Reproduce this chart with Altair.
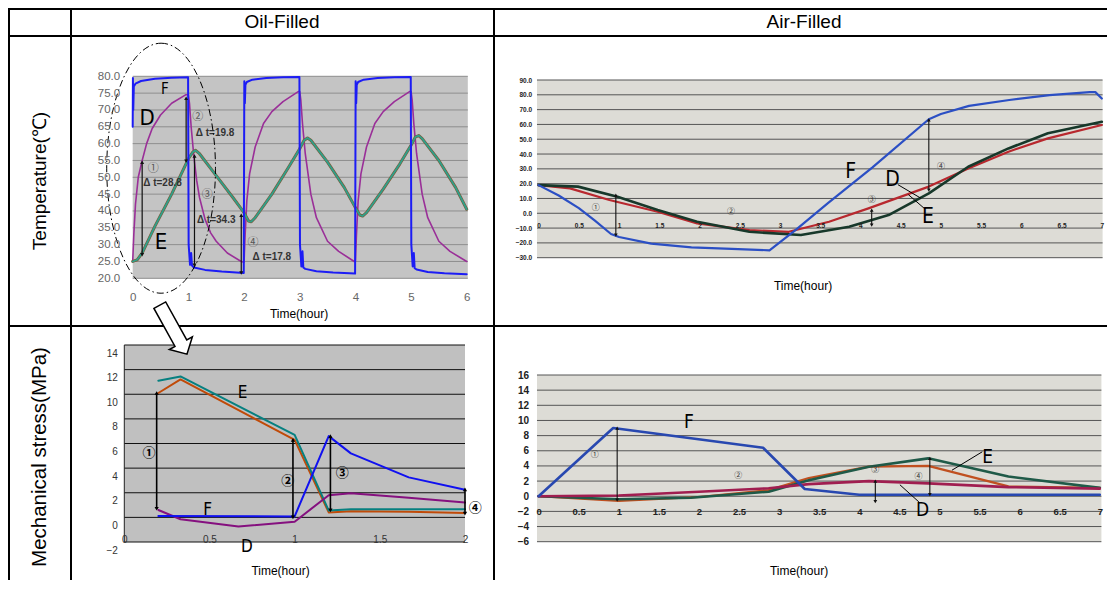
import altair as alt
import pandas as pd

W, H = 1099, 572
FONT = "Liberation Sans, Arial, sans-serif"
NARROW = "Liberation Sans Narrow, DejaVu Sans Condensed, sans-serif"
CJK = "Noto Sans CJK JP, DejaVu Sans, sans-serif"

# ---------------- text ----------------
header_labels = ["Oil-Filled", "Air-Filled"]
row_labels = ["Temperature(℃)", "Mechanical stress(MPa)"]
time_title = "Time(hour)"

# ---------------- Panel A : oil-filled temperature ----------------
a_f_t = [0.0, 0.004, 0.01, 0.02, 0.05, 0.15, 0.4, 0.7, 0.995, 1.005, 1.03, 1.05, 1.065, 1.1, 1.3, 1.6, 1.995,
         2.005, 2.015, 2.025, 2.05, 2.15, 2.4, 2.7, 2.995, 3.005, 3.03, 3.05, 3.065, 3.1, 3.3, 3.6, 3.995,
         4.005, 4.015, 4.025, 4.05, 4.15, 4.4, 4.7, 4.995, 5.005, 5.03, 5.05, 5.065, 5.1, 5.3, 5.6, 6.0]
a_f_v = [65, 79.5, 70, 77, 77.8, 78.6, 79.3, 79.6, 79.7, 30, 24, 27.5, 23.8, 23.2, 22.5, 22.0, 21.6,
         78.5, 72, 77.5, 78.3, 79.0, 79.5, 79.7, 79.8, 30, 23.5, 28, 23.2, 22.8, 22.1, 21.7, 21.4,
         78.5, 72, 77.5, 78.3, 79.0, 79.5, 79.7, 79.8, 30, 23.5, 27.5, 23.0, 22.6, 21.9, 21.5, 21.2]
a_d_t = [0.0, 0.02, 0.05, 0.1, 0.17, 0.25, 0.35, 0.5, 0.7, 0.95, 1.0,
         1.02, 1.05, 1.1, 1.15, 1.2, 1.3, 1.4, 1.5, 1.7, 1.95, 2.0,
         2.02, 2.05, 2.1, 2.2, 2.35, 2.5, 2.7, 2.98, 3.0,
         3.02, 3.05, 3.1, 3.2, 3.3, 3.5, 3.7, 3.98, 4.0,
         4.02, 4.05, 4.1, 4.2, 4.35, 4.5, 4.7, 4.98, 5.0,
         5.02, 5.05, 5.1, 5.2, 5.3, 5.5, 5.7, 6.0]
a_d_v = [25, 33, 42, 50, 55, 60, 64.5, 68.5, 72, 74.5, 74.5,
         72, 65, 56, 49, 44, 37.5, 33.5, 31, 27.5, 25, 24.8,
         33, 43, 51, 59, 66, 69.5, 72.5, 75.5, 75.5,
         73, 66, 57, 45, 38, 31, 28, 25, 25,
         33, 43, 51, 59, 66, 69.5, 72.5, 75.5, 75.5,
         73, 66, 57, 45, 38, 31, 28, 25]
a_e_t = [0.0, 0.08, 0.17, 0.4, 0.7, 1.0, 1.08, 1.13, 1.2, 1.5, 1.8, 2.0, 2.08, 2.13, 2.2, 2.5, 2.8, 3.0, 3.08,
         3.14, 3.2, 3.5, 3.8, 4.0, 4.08, 4.13, 4.2, 4.5, 4.8, 5.0, 5.08, 5.14, 5.2, 5.5, 5.8, 6.0]
a_e_v = [25, 25.5, 27.5, 35.5, 45, 55.5, 57.5, 58, 57, 50.5, 44, 39.5, 37, 36.8, 38, 45, 53, 58.5, 61,
         61.7, 61, 54.5, 47, 41, 38.8, 38.5, 39.5, 46.5, 54, 59.5, 62, 62.4, 61.5, 55, 47, 40.5]
a_arrow_x = [0.17, 0.96, 1.11, 1.95]
a_arrow_top = [54.5, 73.5, 56.3, 38.7]
a_arrow_bot = [27.0, 54.8, 23.9, 21.6]
a_circ_x = [0.37, 1.17, 1.34, 2.16]
a_circ_y = [52.6, 67.9, 44.6, 30.6]
a_circ_s = ["①", "②", "③", "④"]
a_dt_x = [0.535, 1.48, 1.50, 2.5]
a_dt_y = [48.3, 63.1, 37.3, 26.3]
a_dt_s = ["Δ t=28.8", "Δ t=19.8", "Δ t=34.3", "Δ t=17.8"]
a_lab_x = [0.58, 0.26, 0.51]
a_lab_y = [76.2, 67.6, 30.8]
a_lab_s = ["F", "D", "E"]
a_lab_size = [15, 22, 22]
a_ellipse_x = [0.51]
a_ellipse_y = [52.7]

# ---------------- Panel B : air-filled temperature ----------------
b_f_t = [0, 0.25, 0.5, 0.7, 0.9, 1.0, 1.4, 1.9, 2.4, 2.87, 3.2, 3.6, 4.15, 4.85, 5.0, 5.35, 5.85, 6.35, 6.85, 6.92, 7.0]
b_f_v = [19, 12, 3.5, -5, -14, -16, -20.5, -23, -24, -25, -11, 7, 31, 63.5, 67, 72.5, 76.5, 79.8, 81.8, 81.8, 77.5]
b_d_t = [0, 0.39, 0.88, 1.48, 1.97, 2.62, 3.11, 3.61, 4.1, 4.85, 5.34, 5.84, 6.33, 7.0]
b_d_v = [19, 16.8, 9, 1, -6.8, -11.4, -12.5, -5.7, 3.3, 18, 30.3, 41.6, 50.6, 59.6]
b_e_t = [0, 0.49, 0.98, 1.48, 1.97, 2.62, 3.26, 3.86, 4.35, 4.85, 5.34, 5.84, 6.33, 7.0]
b_e_v = [19, 18, 11.2, 2.2, -5.7, -12.5, -14.7, -9.1, -1.2, 13.4, 31.4, 43.8, 54, 61.8]
b_arrow_x = [0.96, 4.14, 4.85]
b_arrow_top = [12.3, 2.2, 63.0]
b_arrow_bot = [-14.7, -8.0, 15.7]
b_circ_x = [0.71, 2.39, 4.14, 5.0]
b_circ_y = [3.3, 1.0, 9.0, 31.4]
b_circ_s = ["①", "②", "③", "④"]
b_lab_x = [3.88, 4.4, 4.84]
b_lab_y = [28.2, 22.6, -2.2]
b_lab_s = ["F", "D", "E"]
b_lead_id = [0, 0, 1, 1]
b_lead_x = [4.47, 4.75, 4.6, 4.8]
b_lead_y = [19.2, 10.2, 12.4, 3.0]

# ---------------- Panel C : oil-filled stress ----------------
c_e_t = [0.2, 0.33, 1.0, 1.2, 1.33, 1.67, 2.0]
c_e_v = [11.1, 11.45, 6.7, 0.55, 0.65, 0.65, 0.65]
c_b_t = [0.2, 0.33, 1.0, 1.2, 1.33, 1.67, 2.0]
c_b_v = [10.1, 11.2, 6.3, 0.4, 0.5, 0.45, 0.35]
c_f_t = [0.2, 1.0, 1.2, 1.33, 1.67, 2.0]
c_f_v = [0.12, 0.08, 6.6, 5.2, 3.25, 2.25]
c_d_t = [0.2, 0.33, 0.67, 1.0, 1.2, 1.33, 1.67, 2.0]
c_d_v = [0.6, -0.15, -0.75, -0.35, 1.8, 1.95, 1.6, 1.2]
c_arrow_x = [0.19, 0.99, 1.21, 2.0]
c_arrow_top = [10.1, 6.3, 6.6, 2.27]
c_arrow_bot = [0.7, 0.0, 0.57, 0.3]
c_circ_x = [0.145, 0.96, 1.28, 2.06]
c_circ_y = [5.24, 2.97, 3.62, 0.78]
c_circ_s = ["①", "②", "③", "④"]
c_lab_x = [0.695, 0.49, 0.72]
c_lab_y = [10.13, 0.62, -2.38]
c_lab_s = ["E", "F", "D"]

# ---------------- Panel D : air-filled stress ----------------
d_f_t = [0, 0.93, 2.8, 3.32, 4.0, 7.0]
d_f_v = [0, 9.0, 6.4, 0.95, 0.2, 0.2]
d_e_t = [0, 1.0, 1.9, 2.87, 3.37, 4.12, 4.86, 5.86, 7.0]
d_e_v = [0, -0.4, -0.2, 0.6, 2.1, 3.9, 5.0, 2.6, 1.1]
d_b_t = [0, 1.0, 2.0, 2.87, 3.37, 4.12, 4.86, 5.86, 7.0]
d_b_v = [0, -0.6, -0.1, 0.8, 2.4, 3.9, 4.0, 1.3, 1.1]
d_d_t = [0, 1.0, 2.0, 2.87, 3.37, 4.12, 4.86, 5.86, 7.0]
d_d_v = [0, 0.1, 0.6, 1.05, 1.6, 2.0, 1.7, 1.2, 1.0]
d_arrow_x = [0.98, 4.2, 4.88]
d_arrow_top = [9.0, 2.0, 5.0]
d_arrow_bot = [-0.5, -0.7, 0.2]
d_circ_x = [0.7, 2.49, 4.2, 4.74]
d_circ_y = [5.4, 2.7, 3.4, 2.6]
d_circ_s = ["①", "②", "③", "④"]
d_lab_x = [1.876, 5.6, 4.79]
d_lab_y = [9.84, 5.16, -1.82]
d_lab_s = ["F", "E", "D"]
d_lead_id = [0, 0, 1, 1]
d_lead_x = [5.16, 5.53, 4.74, 4.51]
d_lead_y = [3.46, 5.84, -0.72, 1.48]


# ---------------- helpers ----------------
def S(domain, rng):
    return alt.Scale(domain=domain, range=rng, nice=False, zero=False)


def line_layer(xs, ys, sx, sy, color, width, dash=None, opacity=1.0, detail=None):
    df = pd.DataFrame({"x": xs, "y": ys, "i": list(range(len(xs)))})
    props = dict(color=color, strokeWidth=width, opacity=opacity, strokeJoin="round", strokeCap="round")
    if dash is not None:
        props["strokeDash"] = dash
    enc = dict(x=alt.X("x:Q", scale=sx, axis=None), y=alt.Y("y:Q", scale=sy, axis=None), order="i:Q")
    if detail is not None:
        df["g"] = detail
        enc["detail"] = "g:N"
    return alt.Chart(df).mark_line(**props).encode(**enc)


def bg_layer(x0, x1, y0, y1, sx, sy, fill, xaxis, yaxis):
    df = pd.DataFrame({"x0": [x0], "x1": [x1], "y0": [y0], "y1": [y1]})
    return alt.Chart(df).mark_rect(fill=fill).encode(
        x=alt.X("x0:Q", scale=sx, axis=xaxis), x2="x1:Q",
        y=alt.Y("y0:Q", scale=sy, axis=yaxis), y2="y1:Q")


def grid_layer(vals, x0, x1, sx, sy, color, width=1.0):
    df = pd.DataFrame({"y": vals, "x0": [x0] * len(vals), "x1": [x1] * len(vals)})
    return alt.Chart(df).mark_rule(color=color, strokeWidth=width).encode(
        x=alt.X("x0:Q", scale=sx, axis=None), x2="x1:Q",
        y=alt.Y("y:Q", scale=sy, axis=None))


def vgrid_layer(vals, y0, y1, sx, sy, color, width=1.0):
    df = pd.DataFrame({"x": vals, "y0": [y0] * len(vals), "y1": [y1] * len(vals)})
    return alt.Chart(df).mark_rule(color=color, strokeWidth=width).encode(
        x=alt.X("x:Q", scale=sx, axis=None),
        y=alt.Y("y0:Q", scale=sy, axis=None), y2="y1:Q")


def arrow_layers(xs, tops, bots, sx, sy, color="black", width=1.2, head=18):
    df = pd.DataFrame({"x": xs, "top": tops, "bot": bots})
    base = alt.Chart(df)
    r = base.mark_rule(color=color, strokeWidth=width).encode(
        x=alt.X("x:Q", scale=sx, axis=None),
        y=alt.Y("top:Q", scale=sy, axis=None), y2="bot:Q")
    up = base.mark_point(shape="triangle-up", filled=True, color=color, size=head, opacity=1).encode(
        x=alt.X("x:Q", scale=sx, axis=None), y=alt.Y("top:Q", scale=sy, axis=None))
    dn = base.mark_point(shape="triangle-down", filled=True, color=color, size=head, opacity=1).encode(
        x=alt.X("x:Q", scale=sx, axis=None), y=alt.Y("bot:Q", scale=sy, axis=None))
    return [r, up, dn]


def text_layer(xs, ys, labels, sx, sy, size, color="black", font=FONT, weight="normal",
               align="center", baseline="middle", sizes=None):
    df = pd.DataFrame({"x": xs, "y": ys, "s": labels})
    enc = dict(x=alt.X("x:Q", scale=sx, axis=None), y=alt.Y("y:Q", scale=sy, axis=None), text="s:N")
    if sizes is not None:
        df["fs"] = sizes
        enc["size"] = alt.Size("fs:Q", scale=None, legend=None)
    return alt.Chart(df).mark_text(fontSize=size, color=color, font=font, fontWeight=weight,
                                   align=align, baseline=baseline).encode(**enc)


def xaxis(offset_y, values, fmt, size, color, weight="normal", pad=0):
    return alt.Axis(orient="bottom", offset=offset_y - H, values=values, format=fmt, domain=False,
                    ticks=False, tickSize=0, grid=False, labelPadding=pad, labelBaseline="middle",
                    labelFont=FONT, labelFontSize=size, labelColor=color, labelFontWeight=weight,
                    labelFlush=False, labelOverlap=False, labelBound=False, title=None, zindex=2)


def yaxis(x_pos, values, fmt, size, color, weight="normal", pad=4, label_offset=0):
    return alt.Axis(orient="left", offset=-x_pos, values=values, format=fmt, domain=False,
                    ticks=False, tickSize=0, grid=False, labelPadding=pad, labelOffset=label_offset,
                    labelFont=FONT, labelFontSize=size, labelColor=color, labelFontWeight=weight,
                    labelFlush=False, labelOverlap=False, labelBound=False, title=None, zindex=2)


one = pd.DataFrame({"k": [0]})


def hline(y, x0=0, x1=W):
    return alt.Chart(one).mark_rule(color="black", strokeWidth=2).encode(
        x=alt.value(x0), x2=alt.value(x1), y=alt.value(y))


def vline(x, y0=0, y1=H):
    return alt.Chart(one).mark_rule(color="black", strokeWidth=2).encode(
        x=alt.value(x), y=alt.value(y0), y2=alt.value(y1))


def free_text(x, y, s, size, angle=0):
    return alt.Chart(one).mark_text(text=s, fontSize=size, font=FONT, angle=angle, align="center",
                                    baseline="middle", color="black").encode(x=alt.value(x), y=alt.value(y))


layers = []

# ---------- Panel A ----------
sxA = S([0, 6], [124.7, 458.7])
syA = S([20, 80], [270.3, 68.3])
layers.append(bg_layer(0, 6.02, 20, 80, sxA, syA, "#c4c4c4",
                       xaxis(289, [0, 1, 2, 3, 4, 5, 6], "d", 11.5, "#666666"),
                       yaxis(124.7, list(range(20, 85, 5)), ".1f", 11.5, "#666666", pad=13)))
layers.append(grid_layer(list(range(20, 85, 5)), 0, 6.02, sxA, syA, "#8e8e8e", 1))
layers.append(line_layer(a_d_t, a_d_v, sxA, syA, "#9a2f98", 1.6))
layers.append(line_layer(a_e_t, a_e_v, sxA, syA, "#7a5a38", 3.0))
layers.append(line_layer(a_e_t, a_e_v, sxA, syA, "#2fa08a", 1.8))
layers.append(line_layer(a_f_t, a_f_v, sxA, syA, "#1c1cf5", 2.0))
layers += arrow_layers(a_arrow_x, a_arrow_top, a_arrow_bot, sxA, syA, "#111111", 1.2, 16)
layers.append(text_layer(a_circ_x, a_circ_y, a_circ_s, sxA, syA, 11, "#555555", CJK))
layers.append(text_layer(a_dt_x, a_dt_y, a_dt_s, sxA, syA, 10, "#333333", FONT, "bold"))
layers.append(text_layer(a_lab_x, a_lab_y, a_lab_s, sxA, syA, 20, "black", NARROW, sizes=a_lab_size))
ellipse_path = ("M 0 -1 C 0.24 -1 0.435 -0.5523 0.435 0 C 0.435 0.5523 0.24 1 0 1 "
                "C -0.24 1 -0.435 0.5523 -0.435 0 C -0.435 -0.5523 -0.24 -1 0 -1 Z")
layers.append(alt.Chart(pd.DataFrame({"x": a_ellipse_x, "y": a_ellipse_y})).mark_point(
    shape=ellipse_path, size=62500, filled=False, color="black", strokeWidth=1,
    strokeDash=[7, 3, 1.5, 3], opacity=1).encode(
    x=alt.X("x:Q", scale=sxA, axis=None), y=alt.Y("y:Q", scale=syA, axis=None)))

# ---------- Panel B ----------
sxB = S([0, 7], [530.6, 1093.8])
syB = S([-30, 90], [249.7, 72])
layers.append(bg_layer(-0.02, 7.01, -30, 90, sxB, syB, "#dddcd6",
                       xaxis(217, [x / 2 for x in range(15)], "~g", 6.5, "#222222", "bold"),
                       yaxis(530.6, list(range(-30, 100, 10)), ".1f", 6.5, "#222222", "bold", pad=7)))
layers.append(grid_layer(list(range(-30, 100, 10)), -0.02, 7.01, sxB, syB, "#555555", 1))
layers.append(line_layer(b_d_t, b_d_v, sxB, syB, "#b8282e", 2.2))
layers.append(line_layer(b_e_t, b_e_v, sxB, syB, "#17382a", 2.6))
layers.append(line_layer(b_f_t, b_f_v, sxB, syB, "#2b4fc4", 2.2))
layers += arrow_layers(b_arrow_x, b_arrow_top, b_arrow_bot, sxB, syB, "#111111", 1.1, 14)
layers.append(text_layer(b_circ_x, b_circ_y, b_circ_s, sxB, syB, 8, "#333333", CJK))
layers.append(text_layer(b_lab_x, b_lab_y, b_lab_s, sxB, syB, 21, "black", NARROW))
layers.append(line_layer(b_lead_x, b_lead_y, sxB, syB, "black", 1.0, detail=b_lead_id))

# ---------- Panel C ----------
sxC = S([0, 2], [116.3, 457])
syC = S([-2, 14], [534, 337])
layers.append(bg_layer(0, 2, -2, 14, sxC, syC, "#c0c0c0",
                       xaxis(531.3, [0, 0.5, 1, 1.5, 2], "~g", 10, "#333333"),
                       yaxis(116.3, list(range(-2, 16, 2)), "d", 10, "#333333", pad=7, label_offset=8)))
layers.append(grid_layer(list(range(-2, 16, 2)), 0, 2, sxC, syC, "#111111", 1))
layers.append(vgrid_layer([0], -2, 14, sxC, syC, "#222222", 1))
layers.append(line_layer(c_b_t, c_b_v, sxC, syC, "#c04a08", 2.0))
layers.append(line_layer(c_e_t, c_e_v, sxC, syC, "#078080", 2.0))
layers.append(line_layer(c_d_t, c_d_v, sxC, syC, "#85107f", 2.0))
layers.append(line_layer(c_f_t, c_f_v, sxC, syC, "#1010f0", 2.0))
layers += arrow_layers(c_arrow_x, c_arrow_top, c_arrow_bot, sxC, syC, "black", 1.6, 18)
layers.append(text_layer(c_circ_x, c_circ_y, c_circ_s, sxC, syC, 13, "black", CJK, "bold"))
layers.append(text_layer(c_lab_x, c_lab_y, c_lab_s, sxC, syC, 17, "black", NARROW))

# ---------- Panel D ----------
sxD = S([0, 7], [530.6, 1091.8])
syD = S([-6, 16], [533.7, 367])
layers.append(bg_layer(-0.02, 7.02, -6, 16, sxD, syD, "#dddcd6",
                       xaxis(503.7, [x / 2 for x in range(15)], "~g", 9.5, "#222222", "bold"),
                       yaxis(530.6, list(range(-6, 18, 2)), "d", 10, "#222222", "bold", pad=10)))
layers.append(grid_layer(list(range(-6, 18, 2)), -0.02, 7.02, sxD, syD, "#555555", 1))
layers.append(line_layer(d_b_t, d_b_v, sxD, syD, "#c05020", 2.2))
layers.append(line_layer(d_e_t, d_e_v, sxD, syD, "#1f5a48", 2.6))
layers.append(line_layer(d_d_t, d_d_v, sxD, syD, "#a01e50", 2.6))
layers.append(line_layer(d_f_t, d_f_v, sxD, syD, "#2848b0", 2.6))
layers += arrow_layers(d_arrow_x, d_arrow_top, d_arrow_bot, sxD, syD, "#111111", 1.1, 14)
layers.append(text_layer(d_circ_x, d_circ_y, d_circ_s, sxD, syD, 8, "#333333", CJK))
layers.append(text_layer(d_lab_x, d_lab_y, d_lab_s, sxD, syD, 19, "black", NARROW))
layers.append(line_layer(d_lead_x, d_lead_y, sxD, syD, "black", 1.0, detail=d_lead_id))

# ---------- axis titles (Time) ----------
layers.append(free_text(291, 306, time_title, 12))
layers.append(free_text(795, 277.7, time_title, 12))
layers.append(free_text(272.5, 563, time_title, 12))
layers.append(free_text(791, 563, time_title, 12))

# ---------- table ----------
layers.append(hline(1))
layers.append(hline(28))
layers.append(hline(318))
layers.append(vline(1))
layers.append(vline(63))
layers.append(vline(486))
layers.append(free_text(274, 14, header_labels[0], 19))
layers.append(free_text(796, 14, header_labels[1], 19))
layers.append(free_text(32, 173, row_labels[0], 19, angle=270))
layers.append(free_text(32, 449, row_labels[1], 20.5, angle=270))

# ---------- big hollow arrow ----------
arrow_path = "M -0.24 -1 L 0.24 -1 L 0.24 0.55 L 0.47 0.55 L 0 1 L -0.47 0.55 L -0.24 0.55 Z"
layers.append(alt.Chart(one).mark_point(shape=arrow_path, size=3136, filled=True, fill="white",
                                        stroke="black", strokeWidth=1.5, angle=331, opacity=1).encode(
    x=alt.value(165.4), y=alt.value(321.7)))

chart = alt.layer(*layers).resolve_scale(x="independent", y="independent").resolve_axis(
    x="independent", y="independent").properties(
    width=W, height=H, padding={"left": 0, "top": 0, "right": 0, "bottom": 0},
    autosize=alt.AutoSizeParams(type="none")).configure_view(strokeWidth=0).configure(background="white")

chart.save("out.html", embed_options={"renderer": "svg", "actions": False})
